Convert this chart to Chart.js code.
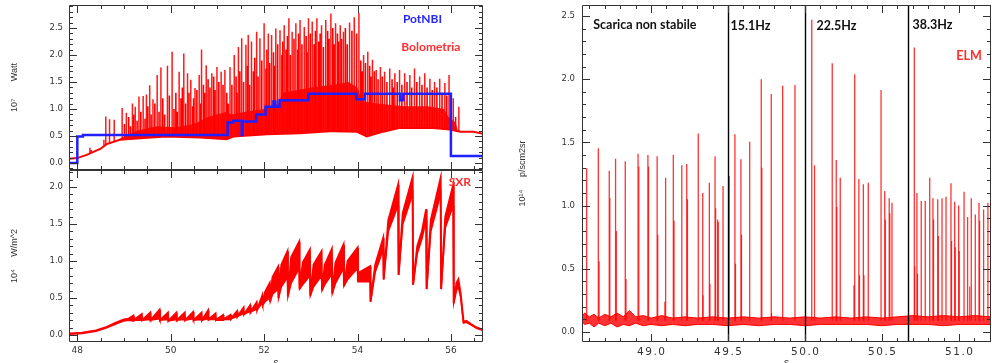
<!DOCTYPE html>
<html>
<head>
<meta charset="utf-8">
<title>Bolometria, SXR, ELM</title>
<script src="https://cdn.jsdelivr.net/npm/chart.js"></script>
<style>
  html, body { margin: 0; padding: 0; background: #fff; }
  body { position: relative; width: 992px; height: 363px; overflow: hidden; }
  canvas { position: absolute; }
</style>
</head>
<body>
<canvas id="bolo" width="492" height="171" style="left:0;top:0"></canvas>
<canvas id="sxr" width="492" height="194" style="left:0;top:169px"></canvas>
<canvas id="elm" width="500" height="363" style="left:492px;top:0"></canvas>
<script>
const INK = "#333";
const RED = "#ff0000";

// --- Bolometria (top left), 10^7 W ---
const boloBaseT = [47.82, 48.0, 48.2, 48.49, 48.63, 48.91, 49.34, 49.91, 50.63, 51.2, 51.34, 52.06,
  52.77, 53.48, 53.98, 54.2, 54.55, 54.91, 55.62, 55.98, 56.2, 56.48, 56.69];
const boloBaseV = [0.08, 0.09, 0.15, 0.26, 0.35, 0.43, 0.46, 0.49, 0.47, 0.44, 0.49, 0.53,
  0.55, 0.59, 0.58, 0.49, 0.58, 0.65, 0.65, 0.62, 0.58, 0.58, 0.54];

// floor of the dense burst region
const boloBandT = [48.9, 49.3, 49.7, 50.1, 50.5, 50.8, 51.2, 51.3, 51.6, 52.0, 52.3, 52.4,
  53.0, 53.5, 53.8, 54.0, 54.1, 54.4, 55.0, 55.5, 55.85, 55.95, 56.1, 56.15];
const boloBandV = [0.45, 0.6, 0.68, 0.66, 0.72, 0.85, 0.95, 0.9, 0.95, 1.0, 1.1, 1.3,
  1.4, 1.45, 1.5, 1.4, 1.15, 1.1, 1.05, 1.05, 1.0, 0.85, 0.75, 0.6];

// tallest bursts
const boloSpikeT = [
  48.27, 48.30, 48.57, 48.61, 48.69, 48.79, 48.96, 49.05, 49.18, 49.24,
  49.32, 49.41, 49.48, 49.55, 49.62, 49.71, 49.79, 49.93, 50.03, 50.18,
  50.28, 50.36, 50.43, 50.52, 50.61, 50.66, 50.76, 50.88, 50.99, 51.08,
  51.16, 51.27, 51.36, 51.45, 51.52, 51.61, 51.66, 51.73, 51.84, 51.91,
  52.00, 52.09, 52.16, 52.25, 52.34, 52.43, 52.53, 52.60, 52.68, 52.77,
  52.86, 52.95, 53.03, 53.13, 53.23, 53.32, 53.43, 53.53, 53.63, 53.70,
  53.83, 53.93, 54.03, 54.13, 54.22, 54.32, 54.40, 54.49, 54.58, 54.69,
  54.80, 54.90, 55.01, 55.12, 55.22, 55.33, 55.44, 55.55, 55.65, 55.76,
  55.87, 55.96, 56.05, 56.17];
const boloSpikeV = [
  0.28, 0.24, 0.43, 0.86, 0.81, 0.80, 1.02, 0.93, 1.10, 1.04,
  1.23, 1.24, 1.27, 1.44, 1.18, 1.63, 1.77, 1.80, 2.06, 1.69,
  2.03, 1.66, 1.54, 1.39, 1.63, 2.10, 1.81, 1.66, 1.78, 1.69,
  1.72, 1.78, 2.00, 2.15, 2.31, 2.19, 2.37, 2.25, 2.43, 2.31,
  2.59, 2.40, 2.37, 2.49, 2.46, 2.55, 2.68, 2.43, 2.59, 2.65,
  2.52, 2.68, 2.62, 2.68, 2.55, 2.65, 2.77, 2.59, 2.55, 2.43,
  2.60, 2.70, 2.78, 2.00, 2.06, 1.91, 1.72, 1.78, 1.69, 1.75,
  1.66, 1.72, 1.66, 1.63, 1.75, 1.60, 1.66, 1.56, 1.50, 1.56,
  1.48, 1.63, 1.20, 1.04];

// smaller bursts in between
const boloMidT = [
  49.01, 49.10, 49.14, 49.21, 49.28, 49.36, 49.45, 49.51, 49.58, 49.66,
  49.75, 49.83, 49.87, 49.97, 50.07, 50.11, 50.14, 50.22, 50.25, 50.32,
  50.39, 50.47, 50.49, 50.56, 50.64, 50.70, 50.73, 50.80, 50.84, 50.92,
  50.95, 51.03, 51.12, 51.20, 51.23, 51.31, 51.40, 51.42, 51.48, 51.56,
  51.64, 51.69, 51.77, 51.80, 51.87, 51.95, 52.04, 52.06, 52.12, 52.20,
  52.22, 52.29, 52.38, 52.40, 52.47, 52.50, 52.56, 52.64, 52.72, 52.74,
  52.81, 52.90, 52.92, 52.99, 53.07, 53.10, 53.17, 53.20, 53.27, 53.36,
  53.39, 53.47, 53.50, 53.57, 53.60, 53.66, 53.74, 53.78, 53.88, 53.98,
  54.07, 54.10, 54.17, 54.26, 54.29, 54.36, 54.44, 54.53, 54.63, 54.74,
  54.77, 54.85, 54.95, 55.06, 55.16, 55.27, 55.38, 55.49, 55.60, 55.70,
  55.81, 55.91, 56.00, 56.10];
const boloMidV = [
  0.72, 0.85, 0.68, 0.90, 0.78, 0.95, 0.82, 1.05, 0.90, 1.10,
  0.95, 1.20, 0.90, 1.25, 1.00, 1.30, 0.95, 1.20, 1.40, 1.10,
  1.30, 1.05, 1.20, 1.35, 1.10, 1.45, 1.30, 1.55, 1.40, 1.60,
  1.35, 1.50, 1.45, 1.30, 1.10, 1.45, 1.60, 1.30, 1.70, 1.50,
  1.80, 1.45, 1.70, 1.95, 1.60, 1.90, 1.75, 2.10, 1.85, 2.05,
  1.80, 2.20, 2.00, 2.25, 2.10, 2.35, 2.00, 2.30, 2.10, 2.40,
  2.20, 2.35, 2.05, 2.40, 2.20, 2.45, 2.25, 2.40, 2.15, 2.45,
  2.30, 2.50, 2.20, 2.40, 2.25, 2.30, 2.50, 2.20, 2.45, 2.40,
  1.90, 1.70, 1.85, 1.80, 1.60, 1.70, 1.55, 1.60, 1.50, 1.55,
  1.40, 1.50, 1.45, 1.50, 1.40, 1.50, 1.45, 1.40, 1.35, 1.40,
  1.30, 1.25, 1.00, 0.85];

// PotNBI, value after each step change
const nbiT = [47.82, 48.0, 48.12, 51.22, 51.34, 51.52, 51.54, 51.83, 52.03, 52.2, 52.24, 52.33,
  52.95, 53.98, 54.16, 54.91, 54.98, 56.0, 56.69];
const nbiV = [0.0, 0.49, 0.52, 0.75, 0.78, 0.52, 0.77, 0.9, 1.04, 1.14, 1.04, 1.16,
  1.28, 1.18, 1.28, 1.16, 1.28, 0.13, 0.13];

// --- SXR (bottom left), 10^4 W/m^2: top of the trace and lower edge of its ripple ---
const sxrT = [
  47.82, 48.1, 48.4, 48.6, 48.8, 49.0, 49.1, 49.2, 49.21, 49.38,
  49.39, 49.56, 49.57, 49.76, 49.77, 49.94, 49.95, 50.12, 50.13, 50.3,
  50.31, 50.48, 50.49, 50.66, 50.67, 50.8, 50.81, 50.96, 50.97, 51.12,
  51.13, 51.28, 51.29, 51.42, 51.43, 51.56, 51.57, 51.7, 51.71, 51.84,
  51.85, 51.96, 51.97, 52.02, 52.12, 52.13, 52.18, 52.3, 52.31, 52.37,
  52.5, 52.51, 52.58, 52.75, 52.76, 52.83, 52.98, 52.99, 53.06, 53.23,
  53.24, 53.3, 53.45, 53.46, 53.53, 53.7, 53.71, 53.79, 54.0, 54.01,
  54.05, 54.27, 54.28, 54.38, 54.55, 54.56, 54.66, 54.87, 54.88, 54.97,
  55.18, 55.19, 55.28, 55.38, 55.47, 55.48, 55.57, 55.78, 55.79, 55.88,
  56.05, 56.06, 56.12, 56.16, 56.21, 56.27, 56.33, 56.42, 56.55, 56.69];
const sxrV = [
  0.02, 0.03, 0.06, 0.1, 0.16, 0.21, 0.22, 0.26, 0.2, 0.28,
  0.2, 0.3, 0.2, 0.34, 0.2, 0.3, 0.19, 0.3, 0.2, 0.3,
  0.2, 0.31, 0.2, 0.3, 0.2, 0.33, 0.21, 0.29, 0.2, 0.27,
  0.21, 0.27, 0.22, 0.32, 0.25, 0.37, 0.28, 0.4, 0.31, 0.44,
  0.34, 0.53, 0.4, 0.58, 0.7, 0.45, 0.78, 0.92, 0.5, 0.95,
  1.13, 0.52, 1.05, 1.26, 0.62, 0.98, 1.15, 0.53, 0.95, 1.13,
  0.6, 0.95, 1.16, 0.56, 0.98, 1.22, 0.66, 1.0, 1.18, 0.72,
  0.85, 0.93, 0.45, 0.95, 1.31, 0.75, 1.55, 2.03, 0.81, 1.65,
  2.13, 0.68, 1.2, 1.4, 1.7, 0.62, 1.55, 2.12, 0.62, 1.6,
  2.03, 0.43, 0.7, 0.75, 0.55, 0.18, 0.19, 0.15, 0.1, 0.07];
const sxrLoV = [
  0.01, 0.02, 0.05, 0.09, 0.14, 0.19, 0.2, 0.19, 0.2, 0.2,
  0.2, 0.21, 0.2, 0.22, 0.2, 0.21, 0.19, 0.21, 0.2, 0.21,
  0.2, 0.22, 0.2, 0.21, 0.2, 0.22, 0.21, 0.21, 0.2, 0.2,
  0.21, 0.21, 0.22, 0.25, 0.25, 0.29, 0.28, 0.32, 0.31, 0.35,
  0.34, 0.43, 0.4, 0.45, 0.5, 0.45, 0.55, 0.62, 0.5, 0.65,
  0.78, 0.52, 0.7, 0.9, 0.62, 0.68, 0.8, 0.53, 0.65, 0.8,
  0.6, 0.68, 0.82, 0.56, 0.7, 0.9, 0.66, 0.75, 0.9, 0.72,
  0.72, 0.72, 0.45, 0.85, 1.15, 0.75, 1.4, 1.75, 0.81, 1.5,
  1.9, 0.68, 1.1, 1.3, 1.55, 0.62, 1.4, 1.9, 0.62, 1.45,
  1.75, 0.43, 0.6, 0.65, 0.5, 0.16, 0.17, 0.14, 0.09, 0.06];

// --- ELM (right), 10^14 p/scm2sr ---
const elmSpikeBase = 0.09;
const elmSpikeT = [
  48.582, 48.658, 48.729, 48.77, 48.833, 48.916, 48.98, 49.04, 49.095, 49.145,
  49.2, 49.232, 49.307, 49.336, 49.379, 49.416, 49.433, 49.468, 49.508, 49.545,
  49.584, 49.641, 49.716, 49.781, 49.855, 49.935, 50.044, 50.177, 50.203, 50.229,
  50.323, 50.35, 50.379, 50.411, 50.494, 50.518, 50.547, 50.565, 50.71, 50.727,
  50.755, 50.781, 50.81, 50.831, 50.862, 50.89, 50.916, 50.948, 50.972, 50.998,
  51.033, 51.056, 51.08, 51.106, 51.13, 51.16, 51.188, 51.207];
const elmSpikeV = [
  1.295, 1.453, 1.276, 1.37, 1.35, 1.41, 1.40, 1.39, 1.22, 1.40,
  1.32, 1.33, 1.57, 1.10, 1.18, 1.39, 0.89, 1.155, 1.235, 1.564,
  1.366, 1.506, 2.0, 1.883, 1.949, 1.954, 2.47, 2.126, 1.36, 1.22,
  2.04, 1.21, 1.168, 1.18, 1.915, 1.115, 1.058, 1.023, 2.25, 1.10,
  1.037, 1.037, 1.22, 1.058, 1.05, 1.058, 1.07, 1.176, 1.03, 1.0,
  1.11, 0.91, 1.058, 0.93, 1.023, 0.97, 1.023, 0.96];
const elmTwinT = [
  48.663, 48.733, 48.775, 48.838, 48.921, 48.984, 49.044, 49.09, 49.15, 49.237,
  49.338, 49.383, 49.42, 49.437, 49.549, 49.588, 49.72, 49.783, 50.062, 50.207,
  50.318, 50.354, 50.383, 50.522, 50.551, 50.713, 50.731, 50.835, 50.866, 50.952,
  50.976, 51.002, 51.07, 51.134];
const elmTwinV = [
  0.56, 1.06, 0.80, 0.42, 1.31, 1.31, 0.77, 0.24, 0.88, 1.05,
  0.29, 0.38, 0.98, 0.87, 0.54, 0.77, 1.30, 0.15, 1.32, 0.99,
  0.37, 0.45, 0.45, 0.89, 0.94, 0.52, 0.46, 0.89, 0.76, 0.72,
  0.67, 0.64, 0.36, 0.88];
const elmNoiseT = [
  48.552, 48.57, 48.6, 48.63, 48.66, 48.7, 48.74, 48.78, 48.82, 48.86,
  48.9, 48.95, 49.0, 49.07, 49.14, 49.22, 49.3, 49.4, 49.5, 49.6,
  49.7, 49.8, 49.9, 50.0, 50.1, 50.2, 50.3, 50.4, 50.5, 50.6,
  50.7, 50.8, 50.9, 51.0, 51.1, 51.208];
const elmNoiseHi = [
  0.13, 0.15, 0.12, 0.14, 0.11, 0.14, 0.12, 0.15, 0.12, 0.17,
  0.12, 0.13, 0.11, 0.13, 0.11, 0.12, 0.11, 0.12, 0.11, 0.12,
  0.11, 0.12, 0.11, 0.12, 0.11, 0.12, 0.11, 0.12, 0.11, 0.12,
  0.13, 0.12, 0.13, 0.12, 0.13, 0.12];
const elmNoiseLo = [
  0.08, 0.06, 0.07, 0.04, 0.07, 0.05, 0.07, 0.04, 0.06, 0.05,
  0.07, 0.05, 0.06, 0.05, 0.06, 0.05, 0.06, 0.06, 0.05, 0.06,
  0.05, 0.06, 0.06, 0.05, 0.06, 0.06, 0.06, 0.06, 0.05, 0.06,
  0.06, 0.06, 0.05, 0.06, 0.06, 0.06];
const elmMarkT = [49.5, 50.0, 50.67];

// tick labels
const boloYTicks = [0, 0.5, 1, 1.5, 2, 2.5];
const sxrYTicks = [0, 0.5, 1, 1.5, 2];
const leftXTicks = [48, 50, 52, 54, 56];
const elmYTicks = [0, 0.5, 1, 1.5, 2, 2.5];
const elmXTicks = [49, 49.5, 50, 50.5, 51];

function trace(ts, vs) {
  return ts.map((t, i) => ({ x: t, y: vs[i] }));
}
function spikes(ts, vs, base) {
  return ts.flatMap((t, i) => [{ x: t, y: base }, { x: t, y: vs[i] }, { x: t, y: null }]);
}

// IDL style box: inward ticks on all four sides
const frameTicks = {
  id: "frameTicks",
  afterDraw(chart, args, o) {
    const { ctx, chartArea: a } = chart;
    const { x, y } = chart.scales;
    ctx.save();
    ctx.strokeStyle = INK;
    ctx.lineWidth = 1;
    ctx.beginPath();
    const mark = (scale, step, len) => {
      const first = Math.ceil(scale.min / step - 1e-6);
      for (let k = first; k * step <= scale.max + 1e-9; k++) {
        const p = Math.round(scale.getPixelForValue(k * step)) + 0.5;
        if (scale.isHorizontal()) {
          ctx.moveTo(p, a.top);
          ctx.lineTo(p, a.top + len);
          ctx.moveTo(p, a.bottom);
          ctx.lineTo(p, a.bottom - len);
        } else {
          ctx.moveTo(a.left, p);
          ctx.lineTo(a.left + len, p);
          ctx.moveTo(a.right, p);
          ctx.lineTo(a.right - len, p);
        }
      }
    };
    mark(x, o.xMinor, 4);
    mark(x, o.xMajor, 8);
    mark(y, o.yMinor, 4);
    mark(y, o.yMajor, 8);
    ctx.rect(a.left + 0.5, a.top + 0.5, a.right - a.left - 1, a.bottom - a.top - 1);
    ctx.stroke();
    if (o.xLabels) {
      const l = o.xLabels;
      ctx.font = l.font;
      ctx.fillStyle = INK;
      ctx.textAlign = "center";
      ctx.textBaseline = "middle";
      if ("letterSpacing" in ctx) ctx.letterSpacing = l.spacing + "px";
      l.values.forEach((v) => {
        ctx.fillText(v.toFixed(1), x.getPixelForValue(v) + l.spacing / 2, a.bottom + l.offset);
      });
    }
    ctx.restore();
  },
};

// text notes and vertical markers
const notes = {
  id: "notes",
  afterDatasetsDraw(chart, args, o) {
    const { ctx, chartArea: a } = chart;
    const { x, y } = chart.scales;
    ctx.save();
    (o.marks || []).forEach((t) => {
      const px = Math.round(x.getPixelForValue(t)) + 0.5;
      ctx.strokeStyle = "#000";
      ctx.lineWidth = 1.4;
      ctx.beginPath();
      ctx.moveTo(px, a.top);
      ctx.lineTo(px, a.bottom);
      ctx.stroke();
    });
    (o.labels || []).forEach((l) => {
      ctx.font = l.font;
      ctx.fillStyle = l.color;
      ctx.textAlign = "center";
      ctx.textBaseline = "middle";
      ctx.fillText(l.text, x.getPixelForValue(l.x), y.getPixelForValue(l.y));
    });
    ctx.restore();
  },
};

const tickFont = { family: "DejaVu Sans", size: 8.5 };
const titleFont = { family: "Liberation Sans", size: 9 };

function yAxis(min, max, ticks, title, width, labelPad, titlePad) {
  return {
    type: "linear",
    min,
    max,
    afterBuildTicks: (s) => {
      s.ticks = ticks.map((value) => ({ value }));
    },
    afterFit: (s) => {
      s.width = width;
      s.paddingTop = 0;
      s.paddingBottom = 0;
    },
    grid: { display: false, drawTicks: false },
    border: { display: false },
    ticks: { padding: labelPad, color: INK, font: tickFont, callback: (v) => v.toFixed(1) },
    title: { display: true, text: title, color: INK, font: titleFont, padding: { top: titlePad, bottom: 0 } },
  };
}

function xAxis(min, max, ticks, showLabels) {
  return {
    type: "linear",
    min,
    max,
    afterBuildTicks: (s) => {
      s.ticks = ticks.map((value) => ({ value }));
    },
    afterFit: (s) => {
      s.height = 21;
      s.paddingLeft = 0;
      s.paddingRight = 0;
    },
    grid: { display: false, drawTicks: false },
    border: { display: false },
    ticks: {
      display: showLabels,
      padding: 3,
      color: INK,
      font: { family: "DejaVu Sans", size: 9 },
      maxRotation: 0,
      autoSkip: false,
      callback: (v) => String(v),
    },
    title: { display: true, text: "s", color: INK, font: { family: "Liberation Sans", size: 10 }, padding: { top: 0, bottom: -6 } },
  };
}

function panel(id, datasets, opts) {
  return new Chart(document.getElementById(id), {
    type: "line",
    data: { datasets },
    options: {
      responsive: false,
      animation: false,
      events: [],
      layout: { padding: opts.padding },
      elements: { point: { radius: 0 }, line: { tension: 0, borderJoinStyle: "miter" } },
      plugins: {
        legend: { display: false },
        tooltip: { enabled: false },
        frameTicks: opts.ticks,
        notes: opts.notes || {},
      },
      scales: { x: opts.x, y: opts.y },
    },
    plugins: [frameTicks, notes],
  });
}

const spikeRed = "rgba(255,0,0,0.8)";

panel(
  "bolo",
  [
    { data: trace(nbiT, nbiV), stepped: "before", borderColor: "#1f1fff", borderWidth: 2.5, order: 0 },
    { data: trace(boloBaseT, boloBaseV), borderColor: RED, borderWidth: 2, fill: "start", backgroundColor: "#fff", order: 1 },
    { data: trace(boloBandT, boloBandV), borderColor: "rgba(0,0,0,0)", borderWidth: 1, fill: "start", backgroundColor: "rgba(255,0,0,0.92)", order: 2 },
    { data: spikes(boloMidT, boloMidV, 0), borderColor: RED, borderWidth: 1.6, order: 3 },
    { data: spikes(boloSpikeT, boloSpikeV, 0), borderColor: "rgba(255,0,0,0.9)", borderWidth: 1.5, order: 4 },
  ],
  {
    padding: { left: 0, top: 5, right: 9, bottom: 1 },
    x: { type: "linear", min: 47.822, max: 56.687, display: false },
    y: yAxis(-0.13, 2.926, boloYTicks, "10\u2077       Watt", 69, 6, 9),
    ticks: { xMajor: 2, xMinor: 0.5, yMajor: 0.5, yMinor: 0.1 },
    notes: {
      labels: [
        { text: "PotNBI", x: 55.39, y: 2.66, color: "#2626ff", font: "bold 12px Lato" },
        { text: "Bolometria", x: 55.57, y: 2.15, color: "#ff2e2e", font: "bold 12px Lato" },
      ],
    },
  }
);

panel(
  "sxr",
  [
    { data: trace(sxrT, sxrV), borderColor: RED, borderWidth: 2, fill: 1, backgroundColor: RED },
    { data: trace(sxrT, sxrLoV), borderColor: RED, borderWidth: 1.5 },
  ],
  {
    padding: { left: 0, top: 1, right: 9, bottom: 0 },
    x: xAxis(47.822, 56.687, leftXTicks, true),
    y: yAxis(-0.095, 2.229, sxrYTicks, "10\u2074     W/m^2", 69, 6, 9),
    ticks: { xMajor: 2, xMinor: 0.5, yMajor: 0.5, yMinor: 0.1 },
    notes: {
      labels: [{ text: "SXR", x: 56.19, y: 2.06, color: "#ff2e2e", font: "bold 12px Lato" }],
    },
  }
);

panel(
  "elm",
  [
    { data: spikes(elmSpikeT, elmSpikeV, elmSpikeBase), borderColor: spikeRed, borderWidth: 1.3, order: 0 },
    { data: spikes(elmTwinT, elmTwinV, elmSpikeBase), borderColor: spikeRed, borderWidth: 1.2, order: 1 },
    { data: trace(elmNoiseT, elmNoiseHi), borderColor: RED, borderWidth: 1, fill: 3, backgroundColor: "rgba(255,0,0,0.8)", order: 2 },
    { data: trace(elmNoiseT, elmNoiseLo), borderColor: RED, borderWidth: 1, order: 3 },
  ],
  {
    padding: { left: 0, top: 5, right: 1, bottom: 0 },
    x: xAxis(48.552, 51.208, elmXTicks, false),
    y: yAxis(-0.079, 2.587, elmYTicks, "10\u00b9\u2074     p/scm2sr", 90, 7, 25),
    ticks: {
      xMajor: 0.5, xMinor: 0.1, yMajor: 0.5, yMinor: 0.1,
      xLabels: { values: elmXTicks, font: "10.5px 'DejaVu Sans'", spacing: 1.5, offset: 10.5 },
    },
    notes: {
      marks: elmMarkT,
      labels: [
        { text: "Scarica non stabile", x: 48.96, y: 2.43, color: "#111", font: "bold 12.5px Lato" },
        { text: "15.1Hz", x: 49.646, y: 2.425, color: "#111", font: "bold 12.5px Lato" },
        { text: "22.5Hz", x: 50.205, y: 2.42, color: "#111", font: "bold 12.5px Lato" },
        { text: "38.3Hz", x: 50.828, y: 2.43, color: "#111", font: "bold 12.5px Lato" },
        { text: "ELM", x: 51.065, y: 2.18, color: "#ff2e2e", font: "bold 12.5px Lato" },
      ],
    },
  }
);
</script>
</body>
</html>
